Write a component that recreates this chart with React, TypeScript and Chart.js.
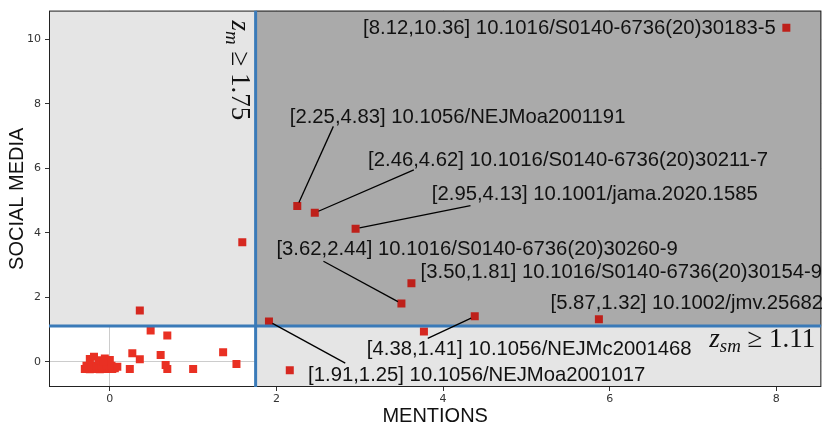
import React, { useEffect, useRef } from 'react';
import { Chart, registerables } from 'chart.js';

Chart.register(...registerables);

// thresholds (z-scores)
const zMentionsThreshold = 1.75;
const zSocialThreshold = 1.11;

// axis ranges and ticks
const xMin = -0.73;
const xMax = 8.54;
const yMin = -0.78;
const yMax = 10.89;
const tickStep = 2;

// scatter values: MENTIONS (x) and SOCIAL MEDIA (y)
const mentions = [
  8.12, 2.25, 2.46, 2.95, 3.62, 3.5, 5.87, 4.38, 1.91,
  3.77, 2.16, 1.59, 0.36, 0.49, 0.69, 0.27, 0.36, 0.61, 0.67, 0.69, 0.24, 1.0, 1.36, 1.52,
  -0.3, -0.27, -0.24, -0.21, -0.18, -0.15, -0.12, -0.09, -0.06, -0.03, 0.0, 0.03, 0.06,
  -0.28, -0.22, -0.16, -0.1, -0.04, 0.02, 0.09,
  -0.24, -0.19, -0.13, -0.06, 0.0, -0.08,
];
const socialMedia = [
  10.36, 4.83, 4.62, 4.13, 2.44, 1.81, 1.32, 1.41, 1.25,
  0.94, -0.26, 3.71, 1.59, 0.97, 0.82, 0.27, 0.08, 0.21, -0.1, -0.22, -0.22, -0.22, 0.3, -0.07,
  -0.22, -0.21, -0.23, -0.22, -0.21, -0.22, -0.23, -0.21, -0.22, -0.22, -0.21, -0.22, -0.2,
  -0.12, -0.13, -0.11, -0.12, -0.1, -0.12, -0.15,
  0.09, 0.16, 0.05, 0.1, 0.06, 0.0,
];

// annotations
const annotationLabels = [
  '[8.12,10.36] 10.1016/S0140-6736(20)30183-5',
  '[2.25,4.83] 10.1056/NEJMoa2001191',
  '[2.46,4.62] 10.1016/S0140-6736(20)30211-7',
  '[2.95,4.13] 10.1001/jama.2020.1585',
  '[3.62,2.44] 10.1016/S0140-6736(20)30260-9',
  '[3.50,1.81] 10.1016/S0140-6736(20)30154-9',
  '[5.87,1.32] 10.1002/jmv.25682',
  '[4.38,1.41] 10.1056/NEJMc2001468',
  '[1.91,1.25] 10.1056/NEJMoa2001017',
];
const annotationTextX = [3.04, 2.16, 3.1, 3.865, 2.0, 3.73, 5.29, 3.085, 2.38];
const annotationTextY = [10.344, 7.58, 6.258, 5.182, 3.493, 2.786, 1.803, 0.39, -0.409];

// leader lines: from text side to the point
const leaderFromX = [2.683, 3.649, 4.329, 2.564, 3.816, 2.826];
const leaderFromY = [7.3, 5.95, 4.84, 3.12, 0.73, -0.04];
const leaderToX = [2.25, 2.46, 2.95, 3.5, 4.38, 1.91];
const leaderToY = [4.83, 4.62, 4.13, 1.81, 1.41, 1.25];

const xTitle = 'MENTIONS';
const yTitle = 'SOCIAL MEDIA';

const BLUE = 'rgb(58,122,184)';

type Part = { t: string; italic?: boolean; sub?: boolean };

function mathWidth(ctx: CanvasRenderingContext2D, parts: Part[], size: number) {
  let w = 0;
  for (const p of parts) {
    const s = p.sub ? size * 0.7 : size;
    ctx.font = `${p.italic ? 'italic ' : ''}${s}px "Liberation Serif"`;
    w += ctx.measureText(p.t).width;
  }
  return w;
}

function drawMath(ctx: CanvasRenderingContext2D, parts: Part[], size: number) {
  let x = 0;
  ctx.textBaseline = 'alphabetic';
  ctx.textAlign = 'left';
  for (const p of parts) {
    const s = p.sub ? size * 0.7 : size;
    ctx.font = `${p.italic ? 'italic ' : ''}${s}px "Liberation Serif"`;
    ctx.fillText(p.t, x, p.sub ? size * 0.2 : 0);
    x += ctx.measureText(p.t).width;
  }
}

const quadrantPlugin = {
  id: 'quadrants',
  beforeDatasetsDraw(chart: any) {
    const { ctx, chartArea: a, scales } = chart;
    const vx = scales.x.getPixelForValue(zMentionsThreshold);
    const hy = scales.y.getPixelForValue(zSocialThreshold);
    ctx.save();
    ctx.fillStyle = '#e5e5e5';
    ctx.fillRect(a.left, a.top, vx - a.left, hy - a.top);
    ctx.fillRect(vx, hy, a.right - vx, a.bottom - hy);
    ctx.fillStyle = '#aaaaaa';
    ctx.fillRect(vx, a.top, a.right - vx, hy - a.top);
    ctx.restore();
  },
  afterDraw(chart: any) {
    const { ctx, chartArea: a, scales } = chart;
    const xs = scales.x;
    const ys = scales.y;
    const vx = xs.getPixelForValue(zMentionsThreshold);
    const hy = ys.getPixelForValue(zSocialThreshold);
    ctx.save();
    // frame
    ctx.strokeStyle = '#222';
    ctx.lineWidth = 1;
    ctx.strokeRect(a.left + 0.5, a.top + 0.5, a.right - a.left - 1, a.bottom - a.top - 1);
    // threshold lines
    ctx.beginPath();
    ctx.rect(a.left, a.top, a.right - a.left, a.bottom - a.top);
    ctx.clip();
    ctx.strokeStyle = BLUE;
    ctx.lineWidth = 3;
    ctx.beginPath();
    ctx.moveTo(vx, a.top);
    ctx.lineTo(vx, a.bottom);
    ctx.moveTo(a.left, hy);
    ctx.lineTo(a.right, hy);
    ctx.stroke();
    // leader lines
    ctx.strokeStyle = '#000';
    ctx.lineWidth = 1.3;
    for (let i = 0; i < leaderFromX.length; i++) {
      const x0 = xs.getPixelForValue(leaderFromX[i]);
      const y0 = ys.getPixelForValue(leaderFromY[i]);
      const x1 = xs.getPixelForValue(leaderToX[i]);
      const y1 = ys.getPixelForValue(leaderToY[i]);
      const d = Math.hypot(x1 - x0, y1 - y0);
      const shrink = 4;
      ctx.beginPath();
      ctx.moveTo(x0, y0);
      ctx.lineTo(x1 - ((x1 - x0) / d) * shrink, y1 - ((y1 - y0) / d) * shrink);
      ctx.stroke();
    }
    ctx.restore();
    ctx.save();
    // annotation texts
    ctx.fillStyle = '#111';
    ctx.font = '20.3px "Liberation Sans"';
    ctx.textBaseline = 'middle';
    ctx.textAlign = 'left';
    for (let i = 0; i < annotationLabels.length; i++) {
      ctx.fillText(annotationLabels[i], xs.getPixelForValue(annotationTextX[i]), ys.getPixelForValue(annotationTextY[i]));
    }
    // threshold labels
    ctx.fillStyle = '#111';
    const size = 27;
    const vParts: Part[] = [
      { t: 'z', italic: true },
      { t: 'm', italic: true, sub: true },
      { t: ' \u2265 ' },
      { t: '1.75' },
    ];
    ctx.save();
    ctx.translate(vx - 24, a.top + 10);
    ctx.rotate(Math.PI / 2);
    drawMath(ctx, vParts, size);
    ctx.restore();
    const hParts: Part[] = [
      { t: 'z', italic: true },
      { t: 'sm', italic: true, sub: true },
      { t: ' \u2265 ' },
      { t: '1.11' },
    ];
    const w = mathWidth(ctx, hParts, size);
    ctx.save();
    ctx.translate(a.right - 6 - w, hy + 21);
    drawMath(ctx, hParts, size);
    ctx.restore();
    ctx.restore();
  },
};

export default function App() {
  const ref = useRef<HTMLCanvasElement>(null);
  useEffect(() => {
    const canvas = ref.current;
    if (!canvas) return;
    const points = mentions.map((m, i) => ({ x: m, y: socialMedia[i] }));
    const colorFor = (p: any) => {
      if (!p) return 'rgb(233,48,35)';
      const right = p.x >= zMentionsThreshold;
      const top = p.y >= zSocialThreshold;
      if (right && top) return 'rgb(190,32,26)';
      if (right || top) return 'rgb(214,40,32)';
      return 'rgb(233,48,35)';
    };
    const chart = new Chart(canvas, {
      type: 'scatter',
      data: {
        datasets: [
          {
            data: points,
            pointStyle: 'rect',
            pointRadius: 5.66,
            pointHoverRadius: 5.66,
            borderWidth: 0,
            backgroundColor: (c: any) => colorFor(c.raw),
          } as any,
        ],
      },
      options: {
        responsive: false,
        animation: false,
        devicePixelRatio: 1,
        layout: { padding: { left: 0, right: 1, top: 7, bottom: 0 } },
        plugins: { legend: { display: false }, tooltip: { enabled: false } },
        scales: {
          x: {
            type: 'linear',
            min: xMin,
            max: xMax,
            z: 1,
            border: { display: false },
            grid: { color: 'rgba(0,0,0,0.2)', lineWidth: 1, tickLength: 4, tickColor: '#333' },
            ticks: {
              stepSize: tickStep,
              includeBounds: false,
              padding: 2,
              color: '#333',
              font: { family: '"DejaVu Sans"', size: 11 },
            },
            title: {
              display: true,
              text: xTitle,
              color: '#111',
              font: { family: '"Liberation Sans"', size: 20, lineHeight: 1.2 },
              padding: { top: 0, bottom: 1 },
            },
            afterFit: (s: any) => {
              s.height = 42;
            },
          },
          y: {
            type: 'linear',
            min: yMin,
            max: yMax,
            z: 1,
            border: { display: false },
            grid: { color: 'rgba(0,0,0,0.2)', lineWidth: 1, tickLength: 4, tickColor: '#333' },
            ticks: {
              stepSize: tickStep,
              includeBounds: false,
              padding: 4,
              color: '#333',
              font: { family: '"DejaVu Sans"', size: 11 },
            },
            title: {
              display: true,
              text: yTitle,
              color: '#111',
              font: { family: '"Liberation Sans"', size: 20, lineHeight: 1.2 },
              padding: { top: 5, bottom: 0 },
            },
            afterFit: (s: any) => {
              s.width = 49;
            },
          },
        },
      } as any,
      plugins: [quadrantPlugin],
    });
    return () => chart.destroy();
  }, []);
  return (
    <div style={{ position: 'fixed', left: 0, top: 0, width: 827, height: 429, background: '#fff' }}>
      <canvas ref={ref} width={827} height={429} style={{ display: 'block' }} />
    </div>
  );
}
